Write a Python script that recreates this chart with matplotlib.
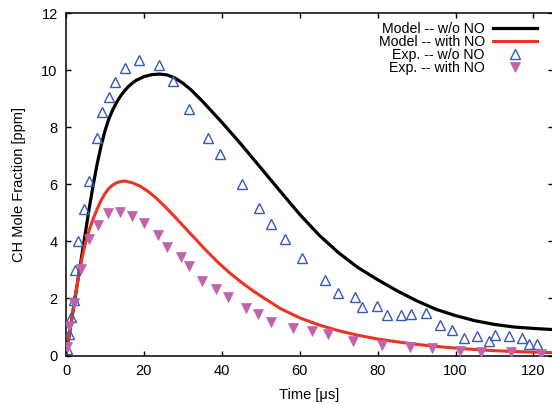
import matplotlib
matplotlib.use("Agg")
import matplotlib.pyplot as plt

plt.rcParams['font.family'] = ['Liberation Sans', 'DejaVu Sans']

# Model -- w/o NO (black)
model_wo_x = [0, 1.5, 3, 4.5, 6, 7, 8, 9, 10, 11, 12, 13, 14, 15, 16, 17, 18, 20, 22, 24,
              26, 28, 30, 32, 35, 40, 45, 50, 55, 60, 65, 70, 75, 80, 85, 90, 95, 100,
              105, 110, 115, 120, 125]
model_wo_y = [0, 1.3, 2.6, 3.9, 5.2, 6.0, 6.72, 7.35, 7.88, 8.3, 8.62, 8.88, 9.1, 9.28,
              9.43, 9.55, 9.65, 9.78, 9.85, 9.87, 9.84, 9.73, 9.55, 9.33, 8.92, 8.18, 7.40,
              6.58, 5.76, 4.95, 4.22, 3.6, 3.08, 2.66, 2.27, 1.92, 1.62, 1.40, 1.22, 1.09,
              1.0, 0.95, 0.91]

# Model -- with NO (red)
model_w_x = [0, 1, 2, 3, 4, 5, 6, 7, 8, 9, 10, 11, 12, 13, 14, 15, 17, 19, 21, 23, 25, 27,
             30, 33, 36, 39, 42, 45, 48, 51, 55, 60, 65, 70, 75, 80, 85, 90, 95, 100, 105,
             110, 115, 120, 125]
model_w_y = [0, 0.9, 1.78, 2.6, 3.35, 3.95, 4.42, 4.8, 5.14, 5.44, 5.68, 5.86, 5.98, 6.06,
             6.1, 6.12, 6.06, 5.94, 5.76, 5.54, 5.28, 5.0, 4.56, 4.12, 3.68, 3.27, 2.9,
             2.57, 2.27, 2.0, 1.65, 1.32, 1.07, 0.87, 0.71, 0.58, 0.48, 0.39, 0.32, 0.26,
             0.21, 0.17, 0.14, 0.12, 0.10]

# Exp. -- w/o NO (blue open triangles)
exp_wo_x = [0.2, 0.77, 1.2, 2.05, 2.3, 3.2, 4.5, 5.9, 8.0, 9.3, 11.0, 12.5, 15.2, 18.7,
            23.9, 27.4, 31.6, 36.5, 39.6, 45.2, 49.5, 52.5, 56.1, 60.5, 66.6, 69.8, 74.2,
            75.9, 79.9, 82.5, 85.9, 88.7, 92.3, 96.1, 99.1, 102.3, 105.5, 108.5, 110.2,
            113.7, 117.1, 118.9, 121.0]
exp_wo_y = [0.23, 0.75, 1.34, 1.95, 3.0, 4.02, 5.15, 6.12, 7.63, 8.53, 9.06, 9.58, 10.08, 10.35,
            10.18, 9.61, 8.64, 7.64, 7.08, 6.03, 5.19, 4.62, 4.10, 3.41, 2.66, 2.18, 2.06,
            1.71, 1.73, 1.43, 1.43, 1.47, 1.48, 1.06, 0.89, 0.60, 0.68, 0.52, 0.72,
            0.69, 0.63, 0.41, 0.41]

# Exp. -- with NO (magenta filled down triangles)
exp_w_x = [0.2, 0.77, 2.1, 3.95, 5.9, 8.3, 10.9, 13.9, 16.9, 20.0, 23.5, 25.9, 29.4, 31.5,
           35.0, 38.6, 41.5, 46.1, 49.4, 52.7, 58.2, 63.2, 67.3, 73.8, 81.1, 88.4, 94.0,
           101.1, 106.6, 114.3, 122.0]
exp_w_y = [0.31, 1.02, 1.85, 3.05, 4.08, 4.59, 5.0, 5.02, 4.89, 4.65, 4.21, 3.82, 3.44, 3.14,
           2.61, 2.34, 2.04, 1.67, 1.47, 1.19, 0.96, 0.85, 0.74, 0.52, 0.37, 0.29, 0.25,
           0.17, 0.12, 0.12, 0.05]

labels = ["Model -- w/o NO", "Model -- with NO", "Exp. -- w/o NO", "Exp. -- with NO"]
xticks = [0, 20, 40, 60, 80, 100, 120]
yticks = [0, 2, 4, 6, 8, 10, 12]

fig = plt.figure(figsize=(5.52, 4.04), dpi=100)
ax = fig.add_axes([0.1196, 0.12, 0.882, 0.847])

ax.plot(model_wo_x, model_wo_y, color='black', lw=2.3, label=labels[0], zorder=2,
        solid_joinstyle='round')
ax.plot(model_w_x, model_w_y, color='#ee3322', lw=2.2, label=labels[1], zorder=2,
        solid_joinstyle='round')
ax.plot(exp_wo_x, exp_wo_y, linestyle='none', marker='^', ms=7.5, mfc='none',
        mec='#3a58b8', mew=1.0, label=labels[2], zorder=3)
ax.plot(exp_w_x, exp_w_y, linestyle='none', marker='v', ms=7.5, mfc='#c262ac',
        mec='#c262ac', mew=0.5, label=labels[3], zorder=4)

ax.set_xlim(0, 125)
ax.set_ylim(0, 12)
ax.set_xticks(xticks)
ax.set_yticks(yticks)
ax.tick_params(direction='in', length=3.5, width=1, top=True, right=True,
               labelsize=10.5, pad=6)
for s in ax.spines.values():
    s.set_linewidth(1.1)

ax.set_xlabel("Time [μs]", fontsize=10.5, labelpad=7)
ax.set_ylabel("CH Mole Fraction [ppm]", fontsize=10.5, labelpad=11)

leg = ax.legend(loc='upper right', frameon=False, markerfirst=False, fontsize=10.2,
                handlelength=3.1, handletextpad=0.6, labelspacing=-0.06,
                borderaxespad=0.2, bbox_to_anchor=(0.985, 1.0))

fig.savefig("out.png", dpi=100)
